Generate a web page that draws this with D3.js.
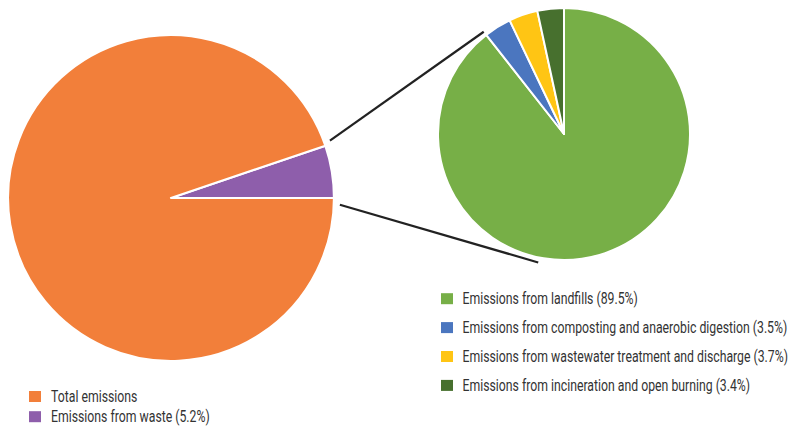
<!DOCTYPE html>
<html><head><meta charset="utf-8">
<script src="https://cdn.jsdelivr.net/npm/d3@7"></script>
<style>
html,body{margin:0;padding:0;background:#fff;}
text{font-family:Roboto,"Liberation Sans",sans-serif;}
</style></head>
<body>
<svg id="c" width="792" height="426"></svg>
<script>
// Data
const mainLabels = ["Total emissions", "Emissions from waste (5.2%)"];
const mainValues = [94.8, 5.2];
const mainColors = ["#F27F3A", "#8E5EAB"];

const wasteLabels = [
  "Emissions from landfills (89.5%)",
  "Emissions from composting and anaerobic digestion (3.5%)",
  "Emissions from wastewater treatment and discharge (3.7%)",
  "Emissions from incineration and open burning (3.4%)"
];
const wasteValues = [89.5, 3.5, 3.7, 3.4];
const wasteColors = ["#77AF47", "#4B76BF", "#FFC514", "#47702E"];

const svg = d3.select("#c");
const TAU = Math.PI * 2;

// Big pie
const big = {cx: 171, cy: 198, r: 163};
const wasteShare = mainValues[1] / d3.sum(mainValues);
const bigStart = Math.PI / 2 - wasteShare * TAU;
const bigPie = d3.pie().sort(null).startAngle(bigStart).endAngle(bigStart + TAU);
const bigOrder = [1, 0];
const bigArcs = bigPie(bigOrder.map(i => mainValues[i]));
const bigArc = d3.arc().innerRadius(0).outerRadius(big.r);
const gBig = svg.append("g").attr("transform", `translate(${big.cx},${big.cy})`);
gBig.selectAll("path").data(bigArcs).join("path")
  .attr("d", bigArc)
  .attr("fill", (d, k) => mainColors[bigOrder[k]])
  .attr("stroke", "#fff").attr("stroke-width", 2.2).attr("stroke-linejoin", "round");

// Small pie
const small = {cx: 564, cy: 134, r: 126};
const smallPie = d3.pie().sort(null);
const smallArcs = smallPie(wasteValues);
const smallArc = d3.arc().innerRadius(0).outerRadius(small.r);
const gSmall = svg.append("g").attr("transform", `translate(${small.cx},${small.cy})`);
gSmall.selectAll("path").data(smallArcs).join("path")
  .attr("d", smallArc)
  .attr("fill", (d, i) => wasteColors[i])
  .attr("stroke", "#fff").attr("stroke-width", 2).attr("stroke-linejoin", "round");

// Connector lines
function pt(c, a, r) { return [c.cx + r * Math.sin(a), c.cy - r * Math.cos(a)]; }
const wasteArc = bigArcs[0];
const lines = [
  [pt(big, wasteArc.startAngle - 0.02, big.r + 6), pt(small, smallArcs[0].endAngle, small.r + 4)],
  [pt(big, wasteArc.endAngle + 0.04, big.r + 6), pt(small, Math.PI * 1.063, small.r + 5)]
];
svg.selectAll("line.conn").data(lines).join("line")
  .attr("class", "conn")
  .attr("x1", d => d[0][0]).attr("y1", d => d[0][1])
  .attr("x2", d => d[1][0]).attr("y2", d => d[1][1])
  .attr("stroke", "#222").attr("stroke-width", 2.2);

// Legends (condensed text via horizontal scaling)
const fs = 17;
const probe = svg.append("text").attr("font-size", fs).text(wasteLabels[1]);
const squeeze = 325 / probe.node().getComputedTextLength();
probe.remove();

function legend(x0, y0, step, labels, colors, textDx) {
  const g = svg.append("g").attr("transform", `translate(${x0},${y0})`);
  labels.forEach((t, i) => {
    const row = g.append("g").attr("transform", `translate(0,${i * step})`);
    row.append("rect").attr("x", 0).attr("y", -5.5).attr("width", 12).attr("height", 11).attr("fill", colors[i]);
    row.append("text").attr("transform", `translate(${textDx},5.5) scale(${squeeze},1)`)
      .attr("font-size", fs).attr("fill", "#333").text(t);
  });
}
legend(29, 396.5, 20.2, mainLabels, mainColors, 22);
legend(441, 298.7, 28.9, wasteLabels, wasteColors, 21.5);
</script>
</body></html>
